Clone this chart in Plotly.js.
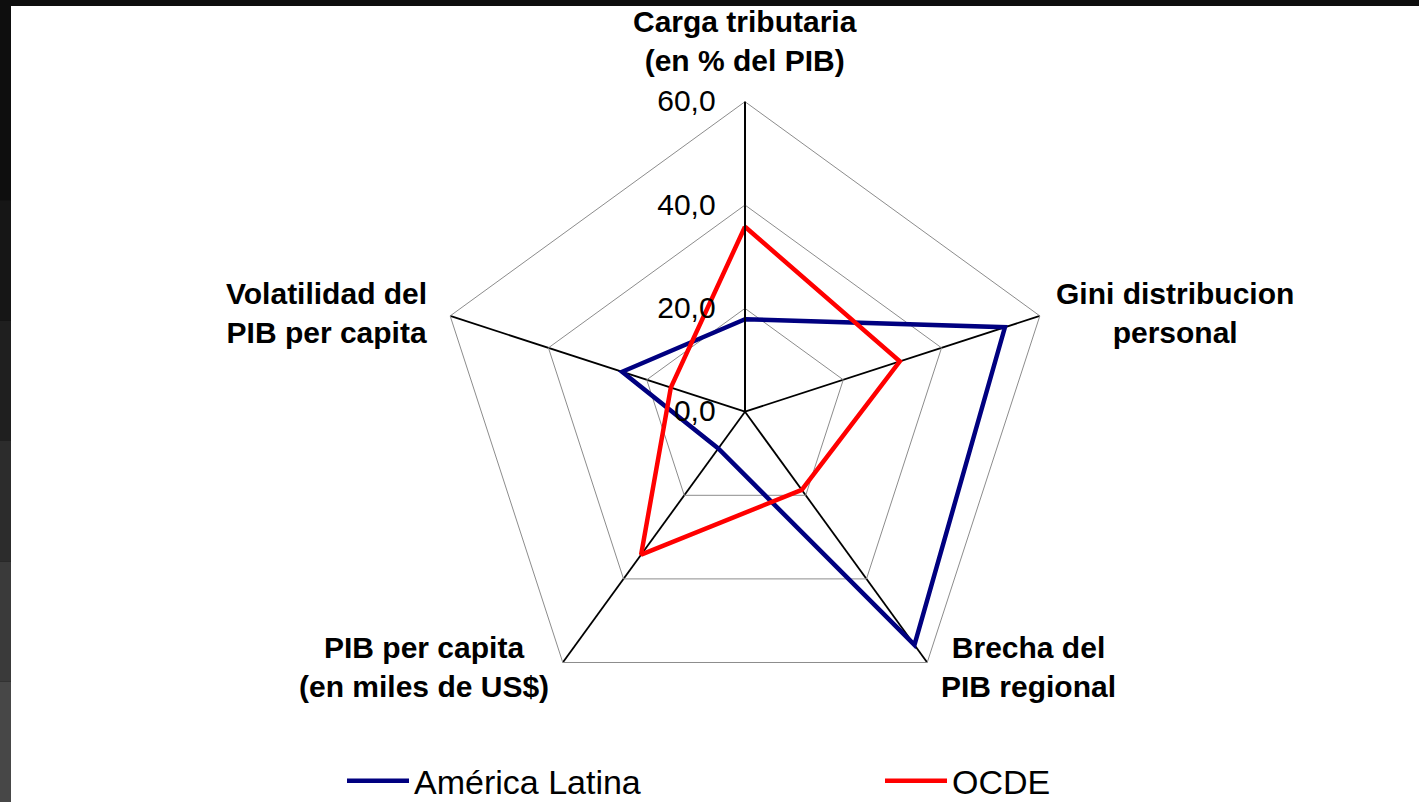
<!DOCTYPE html>
<html><head><meta charset="utf-8">
<script src="https://cdn.plot.ly/plotly-3.0.1.min.js"></script>
<style>html,body{margin:0;padding:0;background:#0e0e0e;overflow:hidden}#chart{width:1419px;height:802px;}</style>
</head><body><div id="chart"></div>
<script>
const categories = ["Carga tributaria<br>(en % del PIB)", "Gini distribucion<br>personal", "Brecha del<br>PIB regional", "PIB per capita<br>(en miles de US$)", "Volatilidad del<br>PIB per capita"];
const americaLatina = [17.9, 52.9, 55.8, 8.8, 25.0];
const ocde = [35.8, 31.5, 18.7, 34.2, 15.1];
const radialTicks = [0, 20, 40, 60];
const radialMax = 60;
const seriesNames = ["América Latina", "OCDE"];
const seriesColors = ["#000080", "#ff0000"];
const seriesLegends = ["legend", "legend2"];

function closeLoop(a){ return a.concat([a[0]]); }

const W = 1419, H = 802;
const dom = {x:[0.30655, 0.74348], y:[0.10012, 0.87319]};

const traces = [americaLatina, ocde].map((vals, i) => ({
  type: 'scatterpolar',
  mode: 'lines',
  r: closeLoop(vals),
  theta: closeLoop(categories),
  name: seriesNames[i],
  legend: seriesLegends[i],
  line: {color: seriesColors[i], width: 4.5},
  hoverinfo: 'skip'
}));

// category labels placed just outside each outer vertex of the polar frame
const cx = (dom.x[0] + dom.x[1]) / 2, cy = (dom.y[0] + dom.y[1]) / 2;
const rx = (dom.x[1] - dom.x[0]) / 2, ry = (dom.y[1] - dom.y[0]) / 2;
const labelPlacement = [
  {xanchor:'center', yanchor:'middle', xshift:0,   yshift:61},
  {xanchor:'left',   yanchor:'middle', xshift:14,  yshift:3},
  {xanchor:'left',   yanchor:'middle', xshift:12,  yshift:-5},
  {xanchor:'right',  yanchor:'middle', xshift:-12, yshift:-5},
  {xanchor:'right',  yanchor:'middle', xshift:-21, yshift:3}
];
const annotations = categories.map((c, i) => {
  const a = (90 - i * 360 / categories.length) * Math.PI / 180;
  return Object.assign({
    xref:'paper', yref:'paper',
    x: cx + rx * Math.cos(a), y: cy + ry * Math.sin(a),
    text: c, showarrow:false, align:'center',
    font: {family:'Liberation Sans, Arial, sans-serif', size:30, weight:'bold', color:'#000'}
  }, labelPlacement[i]);
});

const band = (y0, y1, c) => ({type:'rect', xref:'paper', yref:'paper', x0:0, x1:11/W, y0:y0, y1:y1, fillcolor:c, line:{width:0}, layer:'below'});

const legendBase = {
  orientation: 'h', xref: 'container', yref: 'container',
  y: 0.026, yanchor: 'middle', xanchor: 'left',
  itemwidth: 62,
  font: {family: 'Liberation Sans, Arial, sans-serif', size: 34, color: '#000'},
  bgcolor: 'rgba(0,0,0,0)'
};

const layout = {
  width: W, height: H,
  margin: {l:0, r:0, t:0, b:0, autoexpand: false},
  paper_bgcolor: '#0e0e0e',
  separators: ',.',
  font: {family: 'Liberation Sans, Arial, sans-serif', color: '#000'},
  shapes: [
    {type:'rect', xref:'paper', yref:'paper', x0:11/W, x1:1, y0:0, y1:1-6/H, fillcolor:'#ffffff', line:{width:0}, layer:'below'},
    band(0.0, 0.15, '#474747'),
    band(0.15, 0.3, '#3a3a3a'),
    band(0.3, 0.45, '#2c2c2c'),
    band(0.45, 0.6, '#1f1f1f'),
    band(0.6, 0.75, '#161616')
  ],
  annotations: annotations,
  polar: {
    domain: dom,
    gridshape: 'linear',
    bgcolor: 'rgba(0,0,0,0)',
    angularaxis: {
      type: 'category', categoryarray: categories,
      rotation: 90, direction: 'clockwise',
      showline: true, linecolor: '#8c8c8c', linewidth: 1,
      showgrid: true, gridcolor: '#000000', gridwidth: 1.8,
      ticks: '', showticklabels: false
    },
    radialaxis: {
      range: [0, radialMax], angle: 90, side: 'counterclockwise',
      tickvals: radialTicks, tickformat: '.1f', tickangle: 90,
      showline: true, linecolor: '#000', linewidth: 1.8,
      showgrid: true, gridcolor: '#8c8c8c', gridwidth: 1,
      ticks: 'outside', ticklen: 18, tickcolor: 'rgba(0,0,0,0)',
      tickfont: {family: 'Liberation Sans, Arial, sans-serif', size: 30, color: '#000'}
    }
  },
  showlegend: true,
  legend: Object.assign({x: 342 / W}, legendBase),
  legend2: Object.assign({x: 880 / W}, legendBase)
};

Plotly.newPlot('chart', traces, layout, {displayModeBar: false, staticPlot: true});
</script>
</body></html>
